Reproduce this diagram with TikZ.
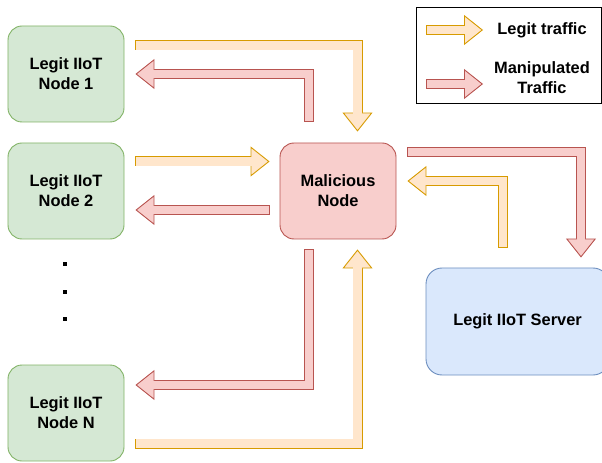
\documentclass[tikz,border=0pt]{standalone}
\usepackage{fontspec}
\setmainfont{Liberation Sans}
\usetikzlibrary{arrows.meta}

\definecolor{greenfill}{HTML}{D5E8D4}
\definecolor{greenline}{HTML}{82B366}
\definecolor{redfill}{HTML}{F8CECC}
\definecolor{redline}{HTML}{B85450}
\definecolor{bluefill}{HTML}{DAE8FC}
\definecolor{blueline}{HTML}{6C8EBF}
\definecolor{legitfill}{HTML}{FFE6CC}
\definecolor{legitline}{HTML}{D79B00}
\definecolor{manipfill}{HTML}{F8CECC}
\definecolor{manipline}{HTML}{B85450}

\tikzset{
  box/.style={rectangle, rounded corners=14bp, minimum width=116bp, minimum height=96bp,
    line width=0.9bp, align=center, font=\bfseries\fontsize{16.4bp}{20bp}\selectfont},
  iiot/.style={box, fill=greenfill, draw=greenline},
  evil/.style={box, fill=redfill, draw=redline},
  server/.style={box, rounded corners=16bp, minimum width=183bp, minimum height=107bp,
    fill=bluefill, draw=blueline},
  label/.style={align=center, font=\bfseries\fontsize{16.4bp}{20bp}\selectfont},
  % block arrows: outline pass (with head) and filling pass
  legit outer/.style={line width=10bp, draw=legitline, line join=miter,
    -{Triangle[length=19bp, width=30bp, fill=legitfill, line width=0.9bp]}},
  legit inner/.style={line width=8.2bp, draw=legitfill, line join=miter},
  manip outer/.style={line width=10bp, draw=manipline, line join=miter,
    -{Triangle[length=19bp, width=30bp, fill=manipfill, line width=0.9bp]}},
  manip inner/.style={line width=8.2bp, draw=manipfill, line join=miter},
}

% #1 kind (legit/manip), #2 gap at the tail, #3 gap at the tip, #4 path
\newcommand\blockarrow[4]{%
  \draw[#1 outer, shorten <=#2, shorten >=#3] #4;
  \draw[#1 inner, shorten <=#2+0.9bp, shorten >=#3+18bp] #4;
}

\begin{document}
\begin{tikzpicture}[x=1bp, y=-1bp]
  \useasboundingbox (0,0) rectangle (602,463);
  \clip (0,0) rectangle (602,463);

  % devices
  \node[iiot] (n1) at (66,74) {Legit IIoT\\Node 1};
  \node[iiot] (n2) at (66,191) {Legit IIoT\\Node 2};
  \node[iiot] (nN) at (66,413) {Legit IIoT\\Node N};
  \node[evil] (mal) at (338,191) {Malicious\\Node};
  \node[server] (srv) at (517.5,321.5) {Legit IIoT Server};

  % vertical ellipsis between node 2 and node N
  \foreach \y in {264,292,319}
    \fill (63.4,\y-1.6) rectangle (66.6,\y+1.6);

  % legend
  \draw[line width=0.9bp] (416,7) rectangle (601.5,103);
  \coordinate (l1a) at (426,30);
  \coordinate (l1b) at (483,30);
  \coordinate (l2a) at (426,84);
  \coordinate (l2b) at (483,84);
  \blockarrow{legit}{0bp}{0bp}{(l1a) -- (l1b)}
  \blockarrow{manip}{0bp}{0bp}{(l2a) -- (l2b)}
  \node[label] (leg1) at (542,30) {Legit traffic};
  \node[label] (leg2) at (542,78) {Manipulated\\Traffic};

  % traffic between the devices and the malicious node
  \blockarrow{legit}{11bp}{11bp}{([yshift=28.5bp]n1.east) -| ([xshift=19.5bp]mal.north)}
  \blockarrow{manip}{21bp}{11bp}{([xshift=-29bp]mal.north) |- (n1.east)}
  \blockarrow{legit}{11bp}{10bp}{([yshift=29.5bp]n2.east) -- ([yshift=29.5bp]mal.west)}
  \blockarrow{manip}{10bp}{11bp}{([yshift=-19bp]mal.west) -- ([yshift=-19bp]n2.east)}
  \blockarrow{manip}{10bp}{11bp}{([xshift=-29bp]mal.south) |- ([yshift=28bp]nN.east)}
  \blockarrow{legit}{11bp}{10bp}{([yshift=-30.5bp]nN.east) -| ([xshift=19.5bp]mal.south)}

  % traffic between the malicious node and the server
  \blockarrow{manip}{11bp}{10bp}{([yshift=39bp]mal.east) -| ([xshift=63.5bp]srv.north)}
  \blockarrow{legit}{20bp}{11bp}{([xshift=-14.5bp]srv.north) |- ([yshift=10bp]mal.east)}
\end{tikzpicture}
\end{document}
